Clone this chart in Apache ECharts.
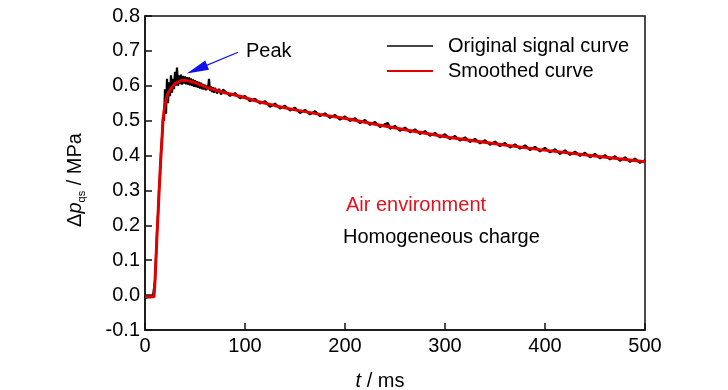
<!DOCTYPE html>
<html>
<head>
<meta charset="utf-8">
<script src="https://cdn.jsdelivr.net/npm/echarts@6/dist/echarts.min.js"></script>
<style>
html,body{margin:0;padding:0;background:#fff;}
#chart{width:728px;height:390px;}
</style>
</head>
<body>
<div id="chart"></div>
<script>
// ---- data ----
var xTicks = [0, 100, 200, 300, 400, 500];
var yTicks = [-0.1, 0.0, 0.1, 0.2, 0.3, 0.4, 0.5, 0.6, 0.7, 0.8];

// Original (raw) signal: [t (ms), Δp (MPa)]
var rawSignal = [
  [0,-0.003],[1,-0.009],[2,-0.002],[3,-0.008],[4,-0.001],[5,-0.007],[6,-0.003],[7,-0.010],[8,-0.002],[9,-0.006],
  [10,0.04],[11,0.11],[12,0.18],[13,0.23],[14,0.30],[15,0.34],[16,0.41],[17,0.45],[18,0.51],[19,0.50],
  [20,0.59],[21,0.52],[22,0.62],[23,0.55],[24,0.61],[25,0.57],[26,0.63],[27,0.58],[28,0.62],[29,0.59],
  [30,0.64],[31,0.60],[32,0.652],[33,0.60],[34,0.63],[35,0.605],[36,0.632],[37,0.603],[38,0.628],[39,0.606],
  [40,0.627],[41,0.604],[42,0.625],[43,0.603],[44,0.624],[45,0.601],[46,0.621],[47,0.600],[48,0.618],[49,0.597],
  [50,0.616],[51,0.596],[52,0.613],[53,0.594],[54,0.611],[55,0.592],[56,0.609],[57,0.590],[58,0.605],[59,0.589],
  [60,0.603],[61,0.587],[62,0.600],[63,0.590],[64,0.620],[65,0.586],[66,0.598],[67,0.582],[68,0.596],[69,0.580],
  [70,0.594],[72,0.578],[74,0.591],[76,0.575],[78,0.589],
  [80,0.586],[85,0.571],[90,0.579],[95,0.564],[100,0.571],[105,0.556],[110,0.563],[115,0.549],[120,0.556],[125,0.540],
  [130,0.549],[135,0.535],[140,0.543],[145,0.529],[150,0.537],[155,0.522],[160,0.531],[165,0.518],[170,0.527],[175,0.513],
  [180,0.521],[185,0.508],[190,0.516],[195,0.503],[200,0.512],[205,0.499],[210,0.507],[215,0.493],[220,0.502],[225,0.488],
  [230,0.496],[235,0.482],[240,0.490],[243,0.493],[245,0.477],[250,0.485],[255,0.471],[260,0.480],[265,0.467],[270,0.475],
  [275,0.462],[280,0.470],[285,0.457],[290,0.465],[295,0.452],[300,0.461],[305,0.447],[310,0.456],[315,0.443],[320,0.452],
  [325,0.439],[330,0.448],[335,0.435],[340,0.444],[345,0.431],[350,0.440],[355,0.427],[360,0.436],[365,0.423],[370,0.432],
  [375,0.420],[380,0.429],[385,0.416],[390,0.425],[395,0.412],[400,0.422],[405,0.409],[410,0.418],[415,0.405],[420,0.415],
  [425,0.402],[430,0.411],[435,0.399],[440,0.408],[445,0.395],[450,0.405],[455,0.392],[460,0.401],[465,0.389],[470,0.398],
  [475,0.385],[480,0.395],[485,0.382],[490,0.391],[495,0.379],[500,0.387]
];

// Smoothed curve: [t (ms), Δp (MPa)]
var smoothedCurve = [
  [0,-0.005],[9,-0.005],[10,0.04],[12,0.17],[15,0.35],[18,0.50],[19,0.527],[20,0.545],[21,0.559],[22,0.57],
  [23,0.578],[25,0.588],[28,0.600],[30,0.606],[32,0.610],[36,0.615],[40,0.616],[45,0.613],[50,0.609],[55,0.603],
  [62,0.595],[70,0.588],[80,0.580],[95,0.570],[113,0.555],[130,0.543],[150,0.531],[175,0.518],[205,0.504],[230,0.490],
  [260,0.474],[305,0.452],[350,0.434],[395,0.417],[450,0.399],[500,0.382]
];

// Peak arrow (start / arrow-head centre in data coordinates)
var peakArrowStart = [93, 0.696];
var peakArrowEnd = [52, 0.647];

var seriesNames = ['Original signal curve', 'Smoothed curve'];
var annotationTexts = ['Peak', 'Air environment', 'Homogeneous charge'];

// ---- chart ----
var FONT = "'Liberation Sans', Arial, Helvetica, sans-serif";
var chart = echarts.init(document.getElementById('chart'), null, {renderer: 'canvas'});

var option = {
  backgroundColor: '#ffffff',
  animation: false,
  textStyle: {fontFamily: FONT},
  grid: {
    left: 145, right: 83, top: 16, bottom: 60,
    containLabel: false, outerBoundsMode: 'none',
    show: true, borderColor: '#111', borderWidth: 1.5, backgroundColor: 'transparent'
  },
  legend: {
    orient: 'vertical',
    left: 387, top: 35, padding: 0,
    itemWidth: 46, itemHeight: 14, itemGap: 3,
    icon: 'path://M0,6 L46,6 L46,8 L0,8 Z',
    data: [
      {name: seriesNames[0], itemStyle: {color: '#444'}},
      {name: seriesNames[1], itemStyle: {color: '#e00000'}}
    ],
    textStyle: {fontFamily: FONT, fontSize: 20, color: '#000', lineHeight: 22, padding: [0, 0, 0, 10]},
    selectedMode: false
  },
  xAxis: {
    type: 'value',
    min: xTicks[0], max: xTicks[xTicks.length - 1], interval: 100,
    name: '{i|t}{n| / ms}',
    nameLocation: 'middle', nameGap: 41,
    nameTextStyle: {
      padding: [0, 30, 0, 0],
      rich: {
        i: {fontFamily: FONT, fontSize: 20, fontStyle: 'italic', color: '#000'},
        n: {fontFamily: FONT, fontSize: 20, color: '#000'}
      }
    },
    axisLine: {show: true, onZero: false, lineStyle: {color: '#111', width: 1.5}},
    axisTick: {show: true, inside: true, length: 7, lineStyle: {color: '#111', width: 1.5}},
    axisLabel: {fontFamily: FONT, fontSize: 20, color: '#000', margin: 6},
    splitLine: {show: false}
  },
  yAxis: {
    type: 'value',
    min: yTicks[0], max: yTicks[yTicks.length - 1], interval: 0.1,
    name: '{a|Δ}{p|p}{s|qs}{a| / MPa}',
    nameLocation: 'middle', nameGap: 58, nameRotate: 90,
    nameTextStyle: {
      padding: [0, 14, 0, 0],
      rich: {
        a: {fontFamily: FONT, fontSize: 20, color: '#000', lineHeight: 24},
        p: {fontFamily: FONT, fontSize: 20, fontStyle: 'italic', color: '#000', lineHeight: 24},
        s: {fontFamily: FONT, fontSize: 11, color: '#000', lineHeight: 24, verticalAlign: 'bottom'}
      }
    },
    axisLine: {show: true, onZero: false, lineStyle: {color: '#111', width: 1.5}},
    axisTick: {show: true, inside: true, length: 7, lineStyle: {color: '#111', width: 1.5}},
    axisLabel: {
      fontFamily: FONT, fontSize: 20, color: '#000', margin: 5, padding: [6, 0, 0, 0],
      formatter: function (v) { return v.toFixed(1); }
    },
    splitLine: {show: false}
  },
  series: [
    {
      name: seriesNames[0],
      type: 'line',
      data: rawSignal,
      symbol: 'none', showSymbol: false,
      lineStyle: {color: '#000', width: 2.2},
      itemStyle: {color: '#444'},
      z: 2
    },
    {
      name: seriesNames[1],
      type: 'line',
      data: smoothedCurve,
      symbol: 'none', showSymbol: false,
      lineStyle: {color: '#e00000', width: 3},
      itemStyle: {color: '#e00000'},
      z: 3,
      markLine: {
        silent: true,
        animation: false,
        label: {show: false},
        lineStyle: {color: '#1010ee', width: 1.2, type: 'solid'},
        data: [[
          {coord: peakArrowStart, symbol: 'none'},
          {coord: peakArrowEnd, symbol: 'path://M5,0 L10,22 L0,22 Z', symbolSize: [10, 22]}
        ]]
      }
    }
  ],
  graphic: [
    {type: 'text', left: 246, top: 41, style: {text: annotationTexts[0], font: '20px ' + FONT, fill: '#000'}},
    {type: 'text', left: 346, top: 195, style: {text: annotationTexts[1], font: '20px ' + FONT, fill: '#e8101a'}},
    {type: 'text', left: 343, top: 227, style: {text: annotationTexts[2], font: '20px ' + FONT, fill: '#000'}}
  ]
};
chart.setOption(option);
</script>
</body>
</html>
